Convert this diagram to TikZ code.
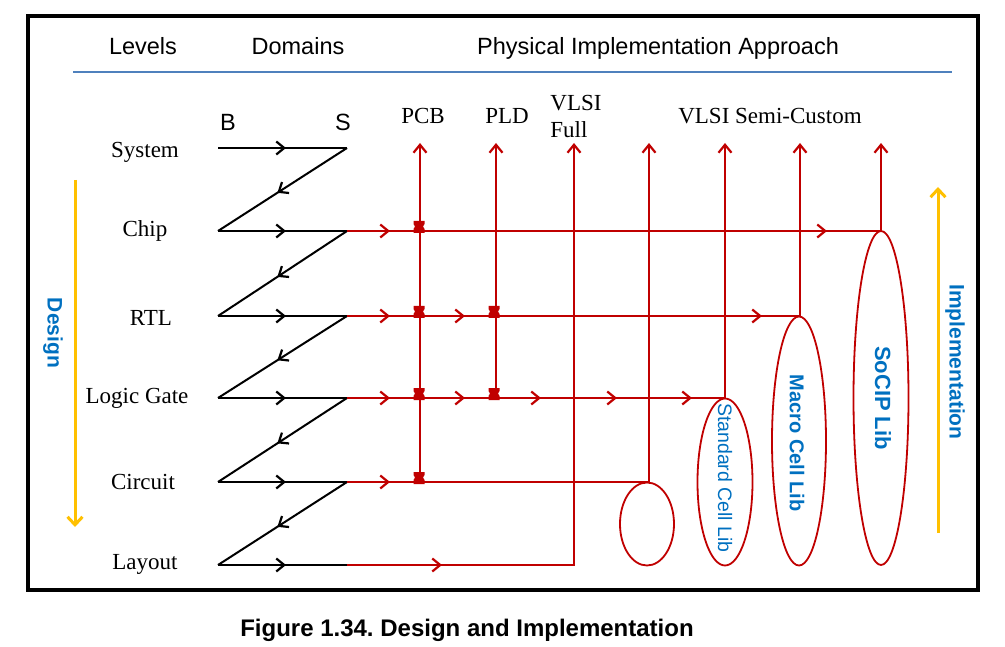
\documentclass[tikz,border=0pt]{standalone}
\usepackage{fontspec}
\setmainfont{Liberation Serif}
\setsansfont{Liberation Sans}
\usetikzlibrary{arrows.meta,decorations.markings,shapes.geometric}
\definecolor{implred}{HTML}{C00000}
\definecolor{libblue}{HTML}{0070C0}
\definecolor{flowgold}{HTML}{FFC000}
\definecolor{ruleblue}{HTML}{4F81BD}
\tikzset{
  barb/.tip={Straight Barb[length=8pt,width=13pt,line width=2.2pt]},
  bigbarb/.tip={Straight Barb[length=8pt,width=15pt,line width=3pt]},
  tipat/.style={postaction={decorate,decoration={markings,mark=at position #1 with {\arrow{barb}}}}},
  joint/.pic={
    \fill[implred] (-5.5,-10) -- (5.5,-10) -- (5.5,-7) -- (4,-4.5) -- (5.5,-2)
      -- (5.5,2) -- (-5.5,2) -- (-5.5,-2) -- (-4,-4.5) -- (-5.5,-7) -- cycle;}
}
\begin{document}
\begin{tikzpicture}[x=1pt,y=-1pt,
    head/.style={font=\sffamily\fontsize{23.5}{26}\selectfont,anchor=base},
    lvl/.style={font=\fontsize{23}{27}\selectfont},
    zig/.style={line width=2pt,black},
    wire/.style={line width=2pt,implred},
    ring/.style={ellipse,draw=implred,line width=1.8pt,inner sep=0pt},
    libname/.style={libblue,font=\sffamily\bfseries\fontsize{20}{22}\selectfont},
    flow/.style={line width=3pt,flowgold},
    flowtext/.style={libblue,font=\sffamily\bfseries\fontsize{21}{24}\selectfont}]
  \useasboundingbox (0,0) rectangle (1005,647);
  \draw[line width=3.5pt] (28,16) rectangle (978,590);

  % header
  \node[head] (levels) at (143,55) {Levels};
  \node[head] (domains) at (298,55) {Domains};
  \node[head] (approach) at (658,55) {Physical Implementation Approach};
  \coordinate (ruleL) at (73,72);
  \coordinate (ruleR) at (952,72);
  \draw[ruleblue,line width=2pt] (ruleL) -- (ruleR);

  % levels
  \node[lvl] (system) at (145,152) {System};
  \node[lvl] (chip) at (145,231) {Chip};
  \node[lvl] (rtl) at (151,318) {RTL};
  \node[lvl] (logic) at (137,398) {Logic Gate};
  \node[lvl] (circuit) at (143,482) {Circuit};
  \node[lvl] (layout) at (145,564) {Layout};

  % domains
  \node[head] (behav) at (228,131) {B};
  \node[head] (struct) at (343,131) {S};
  \coordinate (sysB) at (218,148);   \coordinate (sysS) at (347,148);
  \coordinate (chipB) at (218,231);  \coordinate (chipS) at (347,231);
  \coordinate (rtlB) at (218,316);   \coordinate (rtlS) at (347,316);
  \coordinate (logicB) at (218,398); \coordinate (logicS) at (347,398);
  \coordinate (circB) at (218,482);  \coordinate (circS) at (347,482);
  \coordinate (layB) at (218,565);   \coordinate (layS) at (347,565);
  \foreach \r in {sys,chip,rtl,logic,circ,lay}
    \draw[zig,tipat=68pt] (\r B) -- (\r S);
  \foreach \a/\b in {sys/chip,chip/rtl,rtl/logic,logic/circ,circ/lay}
    \draw[zig,tipat=0.54] (\a S) -- (\b B);

  % approaches
  \node[lvl] (pcb) at (423,116) {PCB};
  \node[lvl] (pld) at (507,116) {PLD};
  \node[lvl,align=left] (full) at (576,116) {VLSI\\Full};
  \node[lvl] (semi) at (770,116) {VLSI Semi-Custom};
  \coordinate (pcbFoot) at (420,482);  \coordinate (pcbTop) at (420,143);
  \coordinate (pldFoot) at (496,398);  \coordinate (pldTop) at (496,143);
  \coordinate (fullFoot) at (574,565); \coordinate (fullTop) at (574,143);
  \coordinate (cusFoot) at (649,482);  \coordinate (cusTop) at (649,143);
  \coordinate (stdFoot) at (725,398);  \coordinate (stdTop) at (725,143);
  \coordinate (macFoot) at (800,316);  \coordinate (macTop) at (800,143);
  \coordinate (socFoot) at (881,231);  \coordinate (socTop) at (881,143);

  \draw[wire,tipat=43pt,tipat=480pt,-{barb}] (chipS) -- (socFoot) -- (socTop);
  \draw[wire,tipat=43pt,tipat=118pt,tipat=415pt,-{barb}] (rtlS) -- (macFoot) -- (macTop);
  \draw[wire,tipat=43pt,tipat=118pt,tipat=194pt,tipat=270pt,tipat=345pt,-{barb}]
    (logicS) -- (stdFoot) -- (stdTop);
  \draw[wire,tipat=43pt,-{barb}] (circS) -- (cusFoot) -- (cusTop);
  \draw[wire,tipat=95pt,-{barb}] (layS) -- (fullFoot) -- (fullTop);
  \draw[wire,-{barb}] (pcbFoot) -- (pcbTop);
  \draw[wire,-{barb}] (pldFoot) -- (pldTop);

  % joints
  \foreach \p in {(419,231),(419,316),(419,398),(419,482),(494,316),(494,398)}
    \pic at \p {joint};

  % libraries
  \node[ring,minimum width=54pt,minimum height=83pt] (cusring) at (647,524) {};
  \node[ring,minimum width=55pt,minimum height=167pt] (stdring) at (725,482) {};
  \node[ring,minimum width=54pt,minimum height=249pt] (macring) at (799,441) {};
  \node[ring,minimum width=55pt,minimum height=334pt] (socring) at (881,398) {};
  \node[libname,font=\sffamily\fontsize{19.5}{21}\selectfont,rotate=-90] (stdlib) at (725,478) {Standard Cell Lib};
  \node[libname,rotate=-90] (maclib) at (797,443) {Macro Cell Lib};
  \node[libname,font=\sffamily\bfseries\fontsize{22}{24}\selectfont,rotate=-90] (soclib) at (883,398) {SoCIP Lib};

  % design / implementation
  \coordinate (designTop) at (75,180);
  \coordinate (designEnd) at (75,527);
  \draw[flow,-{bigbarb}] (designTop) -- (designEnd);
  \node[flowtext,rotate=-90] (design) at (53,333) {Design};
  \coordinate (implFoot) at (938,533);
  \coordinate (implEnd) at (938,187);
  \draw[flow,-{bigbarb}] (implFoot) -- (implEnd);
  \node[flowtext,rotate=-90] (impl) at (955,362) {Implementation};

  \node[font=\sffamily\bfseries\fontsize{24}{28}\selectfont] (caption) at (467,630)
    {Figure 1.34.\ Design and Implementation};
\end{tikzpicture}
\end{document}
